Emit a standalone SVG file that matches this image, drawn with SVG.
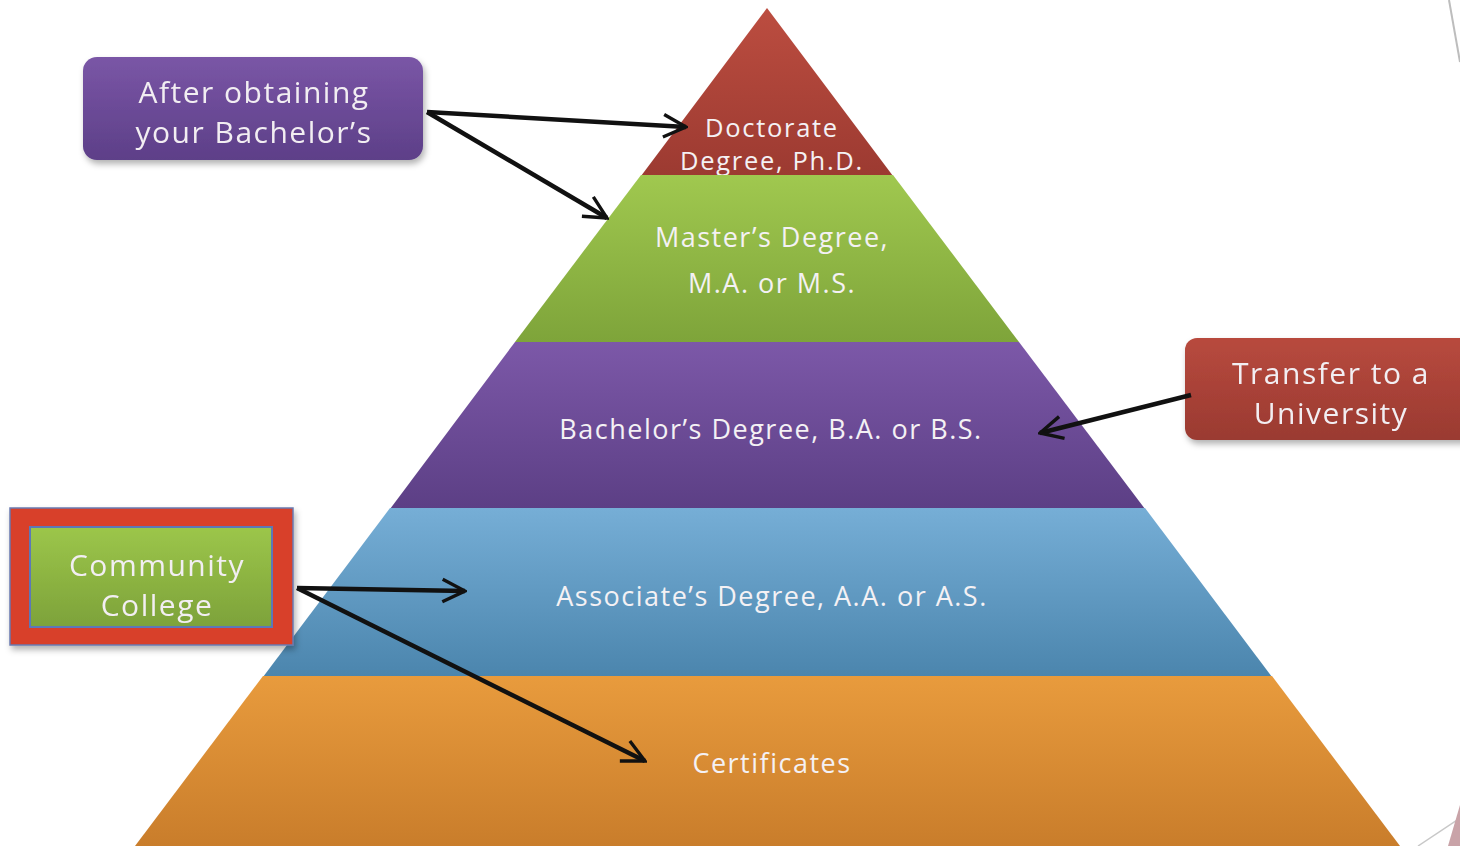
<svg xmlns="http://www.w3.org/2000/svg" width="1460" height="846" viewBox="0 0 1460 846">
<defs>
<style>
.pt{font-family:"Open Sans","Liberation Sans",sans-serif;font-size:27px;letter-spacing:1.5px;fill:#f4f1f4;text-anchor:middle}
.sm{font-size:25.5px;letter-spacing:1.7px}
.bt{font-family:"Open Sans","Liberation Sans",sans-serif;font-size:30px;letter-spacing:1.5px;fill:#f2eef2;text-anchor:middle}
.conn{stroke:#111;stroke-width:4.5;fill:none;marker-end:url(#ah)}
</style>
<marker id="ah" viewBox="0 0 12 12" refX="11" refY="6" markerWidth="6" markerHeight="6" orient="auto" markerUnits="strokeWidth">
<path d="M1,1 L11,6 L1,11" fill="none" stroke="#111" stroke-width="1.5" stroke-linejoin="miter"/>
</marker>
<linearGradient id="gRed" x1="0" y1="0" x2="0" y2="1"><stop offset="0" stop-color="#bc4d40"/><stop offset="1" stop-color="#9c3a31"/></linearGradient>
<linearGradient id="gGreen" x1="0" y1="0" x2="0" y2="1"><stop offset="0" stop-color="#a0c84f"/><stop offset="1" stop-color="#7ea43a"/></linearGradient>
<linearGradient id="gPurple" x1="0" y1="0" x2="0" y2="1"><stop offset="0" stop-color="#7c58a8"/><stop offset="1" stop-color="#5c3f85"/></linearGradient>
<linearGradient id="gBlue" x1="0" y1="0" x2="0" y2="1"><stop offset="0" stop-color="#76aed6"/><stop offset="1" stop-color="#4b85ad"/></linearGradient>
<linearGradient id="gOrange" x1="0" y1="0" x2="0" y2="1"><stop offset="0" stop-color="#e89b3d"/><stop offset="1" stop-color="#c97d2b"/></linearGradient>
<linearGradient id="gBoxP" x1="0" y1="0" x2="0" y2="1"><stop offset="0" stop-color="#7a56a6"/><stop offset="1" stop-color="#5d3f88"/></linearGradient>
<linearGradient id="gBoxR" x1="0" y1="0" x2="0" y2="1"><stop offset="0" stop-color="#b84a3e"/><stop offset="1" stop-color="#9a3a31"/></linearGradient>
<linearGradient id="gBoxG" x1="0" y1="0" x2="0" y2="1"><stop offset="0" stop-color="#9cc64a"/><stop offset="1" stop-color="#7da23a"/></linearGradient>
<filter id="sh" x="-10%" y="-10%" width="125%" height="135%"><feDropShadow dx="2" dy="4" stdDeviation="3" flood-color="#000" flood-opacity="0.3"/></filter>
</defs>
<rect width="1460" height="846" fill="#ffffff"/>

<!-- slide decorations -->
<line x1="1449" y1="0" x2="1460" y2="62" stroke="#bdbdbd" stroke-width="2"/>
<line x1="1418" y1="846" x2="1460" y2="818" stroke="#c8c8c8" stroke-width="1.5"/>
<polygon points="1448,846 1460,805 1460,846" fill="#c9a3a8"/>

<g id="pyramid">
<g id="level-doctorate">
<polygon points="767,8 893,176 641,176" fill="url(#gRed)"/>
<text class="pt sm" x="772" y="137">Doctorate</text>
<text class="pt sm" x="772" y="170">Degree, Ph.D.</text>
</g>
<g id="level-masters">
<polygon points="641,175 893,175 1019,342 515,342" fill="url(#gGreen)"/>
<text class="pt" x="772" y="247">Master’s Degree,</text>
<text class="pt" x="772" y="293">M.A. or M.S.</text>
</g>
<g id="level-bachelors">
<polygon points="515,342 1019,342 1145,509 390,509" fill="url(#gPurple)"/>
<text class="pt" x="771" y="439">Bachelor’s Degree, B.A. or B.S.</text>
</g>
<g id="level-associates">
<polygon points="390,508 1145,508 1272,677 263,677" fill="url(#gBlue)"/>
<text class="pt" x="772" y="606">Associate’s Degree, A.A. or A.S.</text>
</g>
<g id="level-certificates">
<polygon points="263,676 1272,676 1400,846 135,846" fill="url(#gOrange)"/>
<text class="pt" x="772" y="773">Certificates</text>
</g>
</g>

<g id="box-after-bachelors" filter="url(#sh)">
<rect x="83" y="57" width="340" height="103" rx="14" fill="url(#gBoxP)"/>
<text class="bt" x="254" y="103">After obtaining</text>
<text class="bt" x="254" y="143">your Bachelor’s</text>
</g>

<g id="box-transfer" filter="url(#sh)">
<rect x="1185" y="338" width="290" height="102" rx="12" fill="url(#gBoxR)"/>
<text class="bt" x="1331" y="384">Transfer to a</text>
<text class="bt" x="1331" y="424">University</text>
</g>

<g id="box-community-college" filter="url(#sh)">
<rect x="10" y="508" width="283" height="137" fill="#d8402a" stroke="#6a7ab0" stroke-width="1.5"/>
<rect x="30" y="527" width="242" height="100" fill="url(#gBoxG)" stroke="#5c78b8" stroke-width="2"/>
<text class="bt" x="157" y="576">Community</text>
<text class="bt" x="157" y="616">College</text>
</g>

<g id="connectors">
<path class="conn" d="M427,112 L686,127"/>
<path class="conn" d="M427,112 L607,218"/>
<path class="conn" d="M1191,395 L1040,433"/>
<path class="conn" d="M297,588 L465,591"/>
<path class="conn" d="M297,588 L645,761"/>
</g>
</svg>
